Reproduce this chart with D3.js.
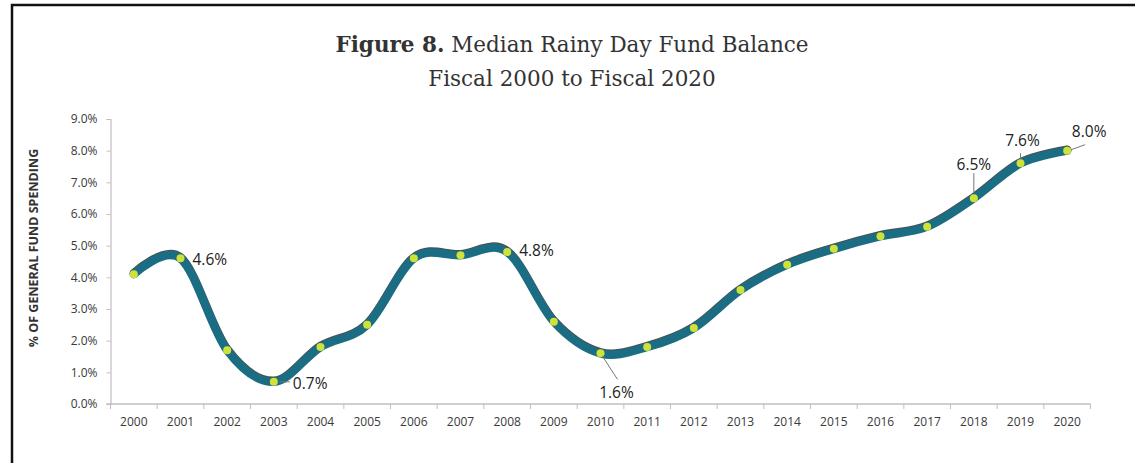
<!DOCTYPE html>
<html>
<head>
<meta charset="utf-8">
<script src="https://cdn.jsdelivr.net/npm/d3@7"></script>
<style>
  html, body { margin: 0; padding: 0; background: #fff; }
  svg { display: block; }
</style>
</head>
<body>
<svg id="chart" width="1135" height="463"></svg>
<script>
// Median rainy day fund balance, % of general fund spending
const years = ["2000","2001","2002","2003","2004","2005","2006","2007","2008","2009","2010",
               "2011","2012","2013","2014","2015","2016","2017","2018","2019","2020"];
const balances = [4.1, 4.6, 1.7, 0.7, 1.8, 2.5, 4.6, 4.7, 4.8, 2.6, 1.6,
                  1.8, 2.4, 3.6, 4.4, 4.9, 5.3, 5.6, 6.5, 7.6, 8.0];
const yTicks = [0, 1, 2, 3, 4, 5, 6, 7, 8, 9];
const labelledYears = ["2001","2003","2008","2010","2018","2019","2020"];

const svg = d3.select("#chart");
const W = 1135, H = 463;
const margin = { left: 110.5, right: 44.5, top: 119, bottom: 59 };

// outer frame
svg.append("rect")
  .attr("x", 12).attr("y", 5)
  .attr("width", W + 20).attr("height", H + 20)
  .attr("fill", "none").attr("stroke", "#111").attr("stroke-width", 2.5);

// title
const title = svg.append("text")
  .attr("x", 572).attr("y", 52)
  .attr("text-anchor", "middle")
  .attr("font-family", "'DejaVu Serif', serif")
  .attr("font-size", 21.5)
  .attr("fill", "#333");
title.append("tspan").attr("font-weight", "bold").text("Figure 8.");
title.append("tspan").text(" Median Rainy Day Fund Balance");
svg.append("text")
  .attr("x", 572).attr("y", 86)
  .attr("text-anchor", "middle")
  .attr("font-family", "'DejaVu Serif', serif")
  .attr("font-size", 21.5)
  .attr("fill", "#333")
  .text("Fiscal 2000 to Fiscal 2020");

const x = d3.scaleBand().domain(years).range([margin.left, W - margin.right]);
const y = d3.scaleLinear().domain([0, 9]).range([H - margin.bottom, margin.top]);
const cx = d => x(d) + x.bandwidth() / 2;

// y axis
const yAxis = svg.append("g")
  .attr("transform", `translate(${margin.left},0)`)
  .call(d3.axisLeft(y).tickValues(yTicks).tickSize(4).tickPadding(9)
        .tickFormat(d => d3.format(".1f")(d) + "%"));
yAxis.select(".domain").attr("stroke", "#bfbfbf").attr("stroke-width", 1.2);
yAxis.selectAll(".tick line").attr("stroke", "#bfbfbf");
yAxis.selectAll(".tick text")
  .attr("font-family", "'Open Sans', sans-serif").attr("font-size", 12).attr("fill", "#3a3a3a");

// x axis with ticks between categories
const xAxis = svg.append("g")
  .attr("transform", `translate(0,${H - margin.bottom})`)
  .call(d3.axisBottom(x).tickSize(0).tickPadding(13));
xAxis.select(".domain").attr("stroke", "#bfbfbf").attr("stroke-width", 1.5)
  .attr("d", `M${margin.left - 4},0H${W - margin.right}`);
xAxis.selectAll(".tick text")
  .attr("font-family", "'Open Sans', sans-serif").attr("font-size", 12).attr("fill", "#3a3a3a");
const bounds = years.map(d => x(d)).concat([x(years[years.length - 1]) + x.bandwidth()]);
xAxis.selectAll(".sep").data(bounds).join("line")
  .attr("x1", d => d).attr("x2", d => d).attr("y1", 0).attr("y2", 5)
  .attr("stroke", "#bfbfbf").attr("stroke-width", 1);

// y axis title
svg.append("text")
  .attr("transform", `translate(38,248) rotate(-90)`)
  .attr("text-anchor", "middle")
  .attr("font-family", "'Open Sans', sans-serif")
  .attr("font-weight", "bold")
  .attr("font-size", 12.5)
  .attr("fill", "#333")
  .text("% OF GENERAL FUND SPENDING");

// smoothed line with a thin dark edge along its top
const pts = years.map((d, i) => [cx(d), y(balances[i])]);
const line = d3.line().curve(d3.curveCardinal.tension(0));
svg.append("path")
  .attr("d", line(pts))
  .attr("transform", "translate(0,-1)")
  .attr("fill", "none").attr("stroke", "#222").attr("stroke-opacity", 0.8).attr("stroke-width", 8.5)
  .attr("stroke-linecap", "round");
svg.append("path")
  .attr("d", line(pts))
  .attr("fill", "none").attr("stroke", "#1b6d83").attr("stroke-width", 8.5)
  .attr("stroke-linecap", "round");

// markers
svg.selectAll(".pt").data(years).join("circle")
  .attr("cx", d => cx(d)).attr("cy", (d, i) => y(balances[i]))
  .attr("r", 4).attr("fill", "#cfe23a");

// data labels with leader lines
const labelPlacement = {
  "2001": { dx: 12, dy: 7, anchor: "start", leader: null },
  "2003": { dx: 19, dy: 7, anchor: "start", leader: [6, 0, 16, 0] },
  "2008": { dx: 12, dy: 4, anchor: "start", leader: null },
  "2010": { dx: 16, dy: 45, anchor: "middle", leader: [2, 3, 17, 26] },
  "2018": { dx: 0, dy: -28, anchor: "middle", leader: [0, -5, 0, -25] },
  "2019": { dx: 2, dy: -17, anchor: "middle", leader: [0, -4, 0, -10] },
  "2020": { dx: 22, dy: -14, anchor: "middle", leader: [4, -1, 18, -6] }
};
const labelled = labelledYears.map(yr => ({ yr, v: balances[years.indexOf(yr)] }));
labelled.forEach(({ yr, v }) => {
  const p = labelPlacement[yr];
  const px = cx(yr), py = y(v);
  if (p.leader) {
    svg.append("line")
      .attr("x1", px + p.leader[0]).attr("y1", py + p.leader[1])
      .attr("x2", px + p.leader[2]).attr("y2", py + p.leader[3])
      .attr("stroke", "#777").attr("stroke-width", 1);
  }
  svg.append("text")
    .attr("x", px + p.dx).attr("y", py + p.dy)
    .attr("text-anchor", p.anchor)
    .attr("font-family", "'Open Sans', sans-serif")
    .attr("font-size", 15.5)
    .attr("fill", "#222")
    .text(d3.format(".1f")(v) + "%");
});
</script>
</body>
</html>
